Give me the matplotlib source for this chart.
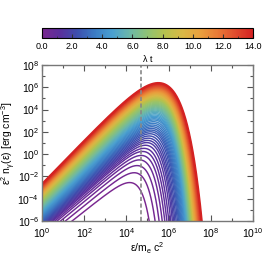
"""Time evolution of the photon spectrum eps^2 n_gamma(eps), one curve per lambda t."""
import numpy as np
import matplotlib
matplotlib.use('Agg')
import matplotlib.pyplot as plt
from matplotlib.colors import LinearSegmentedColormap, Normalize
from matplotlib.cm import ScalarMappable
from matplotlib.ticker import FixedLocator, LogFormatterMathtext, NullFormatter

plt.rcParams['font.family'] = ['Liberation Sans', 'DejaVu Sans']
plt.rcParams['mathtext.fontset'] = 'custom'
plt.rcParams['mathtext.rm'] = 'Liberation Sans'
plt.rcParams['mathtext.it'] = 'Liberation Sans'
plt.rcParams['mathtext.default'] = 'regular'

# Time steps of the curves (lambda t)
lambda_t = np.round(np.arange(0.0, 14.01, 0.2), 1)

# Values at a few times
anchor_t = [0.0, 0.2, 0.4, 0.6, 0.8, 1.0, 1.5, 2.5, 4.0, 5.5, 7.5, 10.0, 12.0, 14.0]
# log10(eps^2 n) at eps = 10^2.27
anchor_level = [-4.72, -4.21, -3.82, -3.52, -3.30, -3.10, -2.75, -2.15, -1.35, -0.65, 0.15, 0.85, 1.30, 1.75]
# log10(eps) where the curve drops to 1e-6
anchor_cutoff = [5.08, 5.36, 5.55, 5.70, 5.82, 5.92, 6.15, 6.45, 6.75, 6.92, 7.09, 7.25, 7.41, 7.57]
# low energy slope and sharpness of the high energy turnover
anchor_slope = [1.50, 1.53, 1.56, 1.59, 1.62, 1.65, 1.70, 1.75, 1.80, 1.84, 1.88, 1.91, 1.93, 1.95]
anchor_sharp = [1.00, 1.00, 0.98, 0.96, 0.94, 0.92, 0.88, 0.82, 0.75, 0.70, 0.64, 0.58, 0.54, 0.50]

# dashed marker line
marker_log_eps = 4.68

# colorbar ticks
cbar_ticks = [0.0, 2.0, 4.0, 6.0, 8.0, 10.0, 12.0, 14.0]

cmap_colors = ['#7a2890', '#5a2f9c', '#3d4fae', '#3b7cc4', '#4aa0d0', '#6cb8a8',
               '#8fc274', '#b6c24e', '#d9b846', '#e9a03e', '#e97a36', '#e04c2e', '#d42222']
cmap = LinearSegmentedColormap.from_list('spec', cmap_colors)
norm = Normalize(vmin=0.0, vmax=14.0)

fig = plt.figure(figsize=(2.66, 2.61), dpi=100)
ax = fig.add_axes([0.158, 0.153, 0.793, 0.598])
cax = fig.add_axes([0.158, 0.854, 0.793, 0.038])

log_eps = np.linspace(0.0, 10.0, 1200)
log_e = np.log10(np.e)
for t in lambda_t:
    level = np.interp(t, anchor_t, anchor_level)
    cut = np.interp(t, anchor_t, anchor_cutoff)
    s = np.interp(t, anchor_t, anchor_slope)
    p = np.interp(t, anchor_t, anchor_sharp)
    a = level - s * 2.27
    c = cut - np.log10((a + s * cut + 6.0) / log_e) / p
    logy = a + s * log_eps - log_e * 10 ** (p * (log_eps - c))
    ok = logy > -7.5
    lw = 1.6 if t == lambda_t[-1] else 1.05
    ax.plot(10 ** log_eps[ok], 10 ** logy[ok], color=cmap(norm(t)), lw=lw)

ax.axvline(10 ** marker_log_eps, color='#888888', lw=1.2, ls=(0, (2.5, 1.5)))

ax.set_xscale('log')
ax.set_yscale('log')
ax.set_xlim(1e0, 1e10)
ax.set_ylim(1e-6, 1e8)
ax.xaxis.set_major_locator(FixedLocator([10.0 ** k for k in range(0, 11, 2)]))
ax.xaxis.set_minor_locator(FixedLocator([10.0 ** k for k in range(1, 10, 2)]))
ax.yaxis.set_major_locator(FixedLocator([10.0 ** k for k in range(-6, 9, 2)]))
ax.yaxis.set_minor_locator(FixedLocator([10.0 ** k for k in range(-5, 8, 2)]))
ax.xaxis.set_major_formatter(LogFormatterMathtext())
ax.yaxis.set_major_formatter(LogFormatterMathtext())
ax.xaxis.set_minor_formatter(NullFormatter())
ax.yaxis.set_minor_formatter(NullFormatter())
ax.tick_params(which='both', direction='in', top=True, right=True, labelsize=7.5,
               color='#555555', pad=2)
ax.tick_params(axis='x', which='major', pad=4)
ax.tick_params(which='major', length=4, width=0.8)
ax.tick_params(which='minor', length=2, width=0.8)
for sp in ax.spines.values():
    sp.set_color('#777777')
    sp.set_linewidth(1.0)
ax.set_xlabel('ε/m$_e$ c$^2$', fontsize=7.5, labelpad=0)
ax.set_ylabel('ε$^2$ n$_γ$(ε) [erg cm$^{-3}$]', fontsize=7.5)
ax.yaxis.set_label_coords(-0.115, 0.5)

# Colorbar
cb = fig.colorbar(ScalarMappable(norm=norm, cmap=cmap), cax=cax, orientation='horizontal')
cb.set_ticks(cbar_ticks)
cb.set_ticklabels(['%.1f' % v for v in cbar_ticks])
cb.ax.xaxis.set_minor_locator(FixedLocator([1.0, 3.0, 5.0, 7.0, 9.0, 11.0, 13.0]))
cb.ax.tick_params(which='both', direction='in', labelsize=6.5, pad=3, color='#333333')
cb.ax.tick_params(which='major', length=3)
cb.ax.tick_params(which='minor', length=1.5)
cb.outline.set_linewidth(0.8)
cb.set_label('λ t', fontsize=6.5, labelpad=3)

fig.savefig('out.png', dpi=100)
